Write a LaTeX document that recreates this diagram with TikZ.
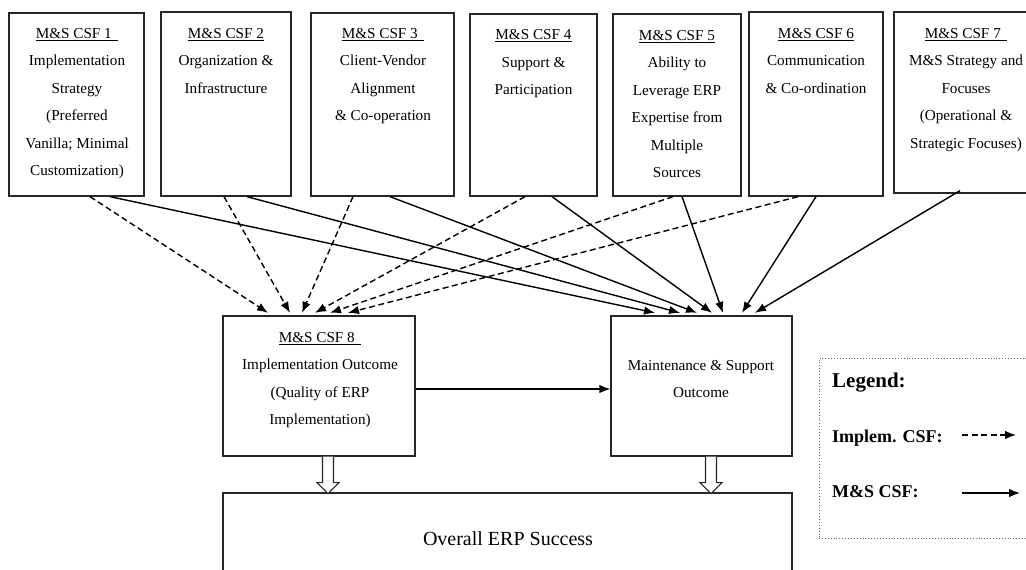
\documentclass[tikz,border=0pt]{standalone}
\usepackage{fontspec}
\setmainfont{Liberation Serif}
\usetikzlibrary{arrows.meta,calc}
\newcommand{\fstrut}{\rule{0pt}{12pt}}
\begin{document}
\begin{tikzpicture}[x=1pt,y=-1pt,
  box/.style={draw=black!85,line width=1.3pt,inner sep=0pt,rectangle},
  txt/.style={font=\fontsize{15.2}{27.5}\selectfont,align=center,inner sep=0pt,anchor=north},
  tip/.style={-{Latex[length=11pt,width=8.5pt]}},
  imp/.style={tip,line width=1.4pt,dash pattern=on 6pt off 3.5pt},
  ms/.style={tip,line width=1.4pt},
  hollow/.style={draw=black!85,line width=1.1pt,fill=white},
  legtxt/.style={font=\fontsize{18}{20}\selectfont\bfseries,inner sep=0pt,anchor=base west},
]
\clip (0,0) rectangle (1026,570);
% top boxes
\node[box,minimum width=135,minimum height=183] (b1) at (76.5,104.5) {};
\node[box,minimum width=130,minimum height=184] (b2) at (226,104) {};
\node[box,minimum width=143,minimum height=183] (b3) at (382.5,104.5) {};
\node[box,minimum width=127,minimum height=182] (b4) at (533.5,105) {};
\node[box,minimum width=128,minimum height=182] (b5) at (677,105) {};
\node[box,minimum width=134,minimum height=184] (b6) at (816,104) {};
\node[box,minimum width=144,minimum height=181] (b7) at (966,102.5) {};
% texts
\node[txt] (t1) at (77,26) {\fstrut\underline{M\&S CSF 1\ \,}\\Implementation\\Strategy\\(Preferred\\Vanilla; Minimal\\Customization)};
\node[txt] (t2) at (226,26) {\fstrut\underline{M\&S CSF 2}\\Organization \&\\Infrastructure};
\node[txt] (t3) at (383,26) {\fstrut\underline{M\&S CSF 3\ \,}\\Client-Vendor\\Alignment\\\& Co-operation};
\node[txt] (t4) at (533.5,27.5) {\fstrut\underline{M\&S CSF 4}\\Support \&\\Participation};
\node[txt] (t5) at (677,28) {\fstrut\underline{M\&S CSF 5}\\Ability to\\Leverage ERP\\Expertise from\\Multiple\\Sources};
\node[txt] (t6) at (816,26) {\fstrut\underline{M\&S CSF 6}\\Communication\\\& Co-ordination};
\node[txt] (t7) at (966,26) {\fstrut\underline{M\&S CSF 7\ \,}\\M\&S Strategy and\\Focuses\\(Operational \&\\Strategic Focuses)};
% middle boxes
\node[box,minimum width=192,minimum height=140] (b8) at (319,386) {};
\node[box,minimum width=181,minimum height=140] (bm) at (701.5,386) {};
\node[txt] (t8) at (320,330) {\fstrut\underline{M\&S CSF 8\ \,}\\Implementation Outcome\\(Quality of ERP\\Implementation)};
\node[txt] (tm) at (701,358) {\fstrut Maintenance \& Support\\Outcome};
% overall
\node[box,minimum width=569,minimum height=107] (bo) at (507.5,546.5) {};
\node[font=\fontsize{20}{24}\selectfont,inner sep=0pt,anchor=base] (to) at (508,545) {Overall ERP Success};
% legend
\node[draw=black!60,line width=0.9pt,dotted,inner sep=0pt,minimum width=221,minimum height=180] (lg) at (929.5,448) {};
\node[legtxt,font=\fontsize{21}{24}\selectfont\bfseries] (lgt) at (832,387) {Legend:};
\node[legtxt] (lgi) at (832,442) {Implem. CSF:};
\node[legtxt] (lgm) at (832,497) {M\&S CSF:};
\coordinate (li1) at (962,435);
\coordinate (li2) at (1016,435);
\coordinate (lm1) at (962,493);
\coordinate (lm2) at (1020,493);
\draw[imp] (li1) -- (li2);
\draw[ms] (lm1) -- (lm2);
% implementation CSF arrows (dashed) to b8
\draw[imp] ([xshift=13.5pt]b1.south) -- ([xshift=-51pt,yshift=2.5pt]b8.north);
\draw[imp] ([xshift=-2pt]b2.south) -- ([xshift=-29pt,yshift=2.5pt]b8.north);
\draw[imp] ([xshift=-29.5pt]b3.south) -- ([xshift=-17pt,yshift=2.5pt]b8.north);
\draw[imp] ([xshift=-8.5pt]b4.south) -- ([xshift=-4pt,yshift=2.5pt]b8.north);
\draw[imp] ([xshift=-4pt]b5.south) -- ([xshift=11pt,yshift=2.5pt]b8.north);
\draw[imp] ([xshift=-18pt]b6.south) -- ([xshift=29pt,yshift=2.5pt]b8.north);
% M&S CSF arrows (solid) to bm
\draw[ms] ([xshift=33.5pt]b1.south) -- ([xshift=-46.5pt,yshift=2.5pt]bm.north);
\draw[ms] ([xshift=21pt]b2.south) -- ([xshift=-21.5pt,yshift=2.5pt]bm.north);
\draw[ms] ([xshift=7.5pt]b3.south) -- ([xshift=-4.5pt,yshift=2.5pt]bm.north);
\draw[ms] ([xshift=18.5pt]b4.south) -- ([xshift=10.5pt,yshift=2.5pt]bm.north);
\draw[ms] ([xshift=5pt]b5.south) -- ([xshift=21.5pt,yshift=2.5pt]bm.north);
\draw[ms] (b6.south) -- ([xshift=40.5pt,yshift=2.5pt]bm.north);
\draw[ms] ([xshift=-6pt,yshift=3pt]b7.south) -- ([xshift=53.5pt,yshift=2.5pt]bm.north);
% horizontal
\draw[ms] ([yshift=-3pt]b8.east) -- ([yshift=-3pt]bm.west);
% hollow arrows
\coordinate (h1) at ([xshift=9pt]b8.south);
\coordinate (h2) at ([xshift=9.5pt]bm.south);
\draw[hollow] (h1) ++(-5.5,0) -- ++(0,26) -- ++(-5.5,0) -- ++(11,11) -- ++(11,-11) -- ++(-5.5,0) -- ++(0,-26);
\draw[hollow] (h2) ++(-5.5,0) -- ++(0,26) -- ++(-5.5,0) -- ++(11,11) -- ++(11,-11) -- ++(-5.5,0) -- ++(0,-26);
\end{tikzpicture}
\end{document}
